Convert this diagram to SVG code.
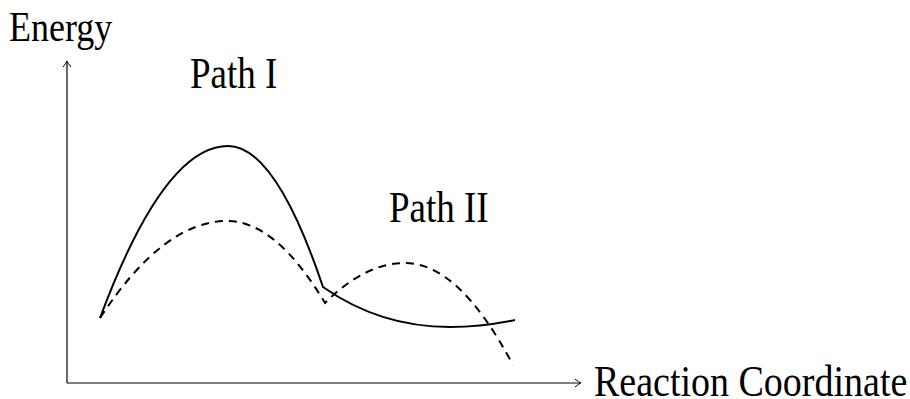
<svg xmlns="http://www.w3.org/2000/svg" width="910" height="399" viewBox="0 0 910 399">
<style>
.t{font-family:'Liberation Serif','Times New Roman',Tinos,serif;font-size:37px;fill:#000}
.axis{stroke:#000;stroke-width:1.2;fill:none}
.solid{stroke:#000;stroke-width:2;fill:none}
.dash{stroke:#000;stroke-width:2;fill:none;stroke-dasharray:8 6}
</style>
<defs>
<marker id="arr" viewBox="-6 -5 8 10" refX="0" refY="0" markerWidth="8" markerHeight="10" markerUnits="userSpaceOnUse" orient="auto">
<path d="M-5,-4 Q-1,-0.8 1,0 Q-1,0.8 -5,4" fill="none" stroke="#000" stroke-width="1"/>
</marker>
</defs>
<rect width="910" height="399" fill="#fff"/>
<g id="axes">
<path class="axis" d="M67,383 V62" marker-end="url(#arr)"/>
<path class="axis" d="M67,383 H580" marker-end="url(#arr)"/>
</g>
<g id="labels">
<text class="t" transform="translate(9,41) scale(1,1.18)" style="font-size:36px">Energy</text>
<text class="t" transform="translate(594,396) scale(1,1.18)" style="font-size:38px">Reaction Coordinate</text>
<text class="t" transform="translate(190,88) scale(1,1.18)">Path I</text>
<text class="t" transform="translate(389,222) scale(1,1.18)">Path II</text>
</g>
<g id="curves">
<path id="path1" class="solid" d="M100,318 Q164,146 228,146 Q275.5,146 323,287 Q380,327 450,327 Q482,327 515,320"/>
<path id="path2" class="dash" d="M100,318 Q163.5,221 227,221 Q276,221 325,303 Q365,263 405,263 Q459,263 513,365"/>
</g>
</svg>
